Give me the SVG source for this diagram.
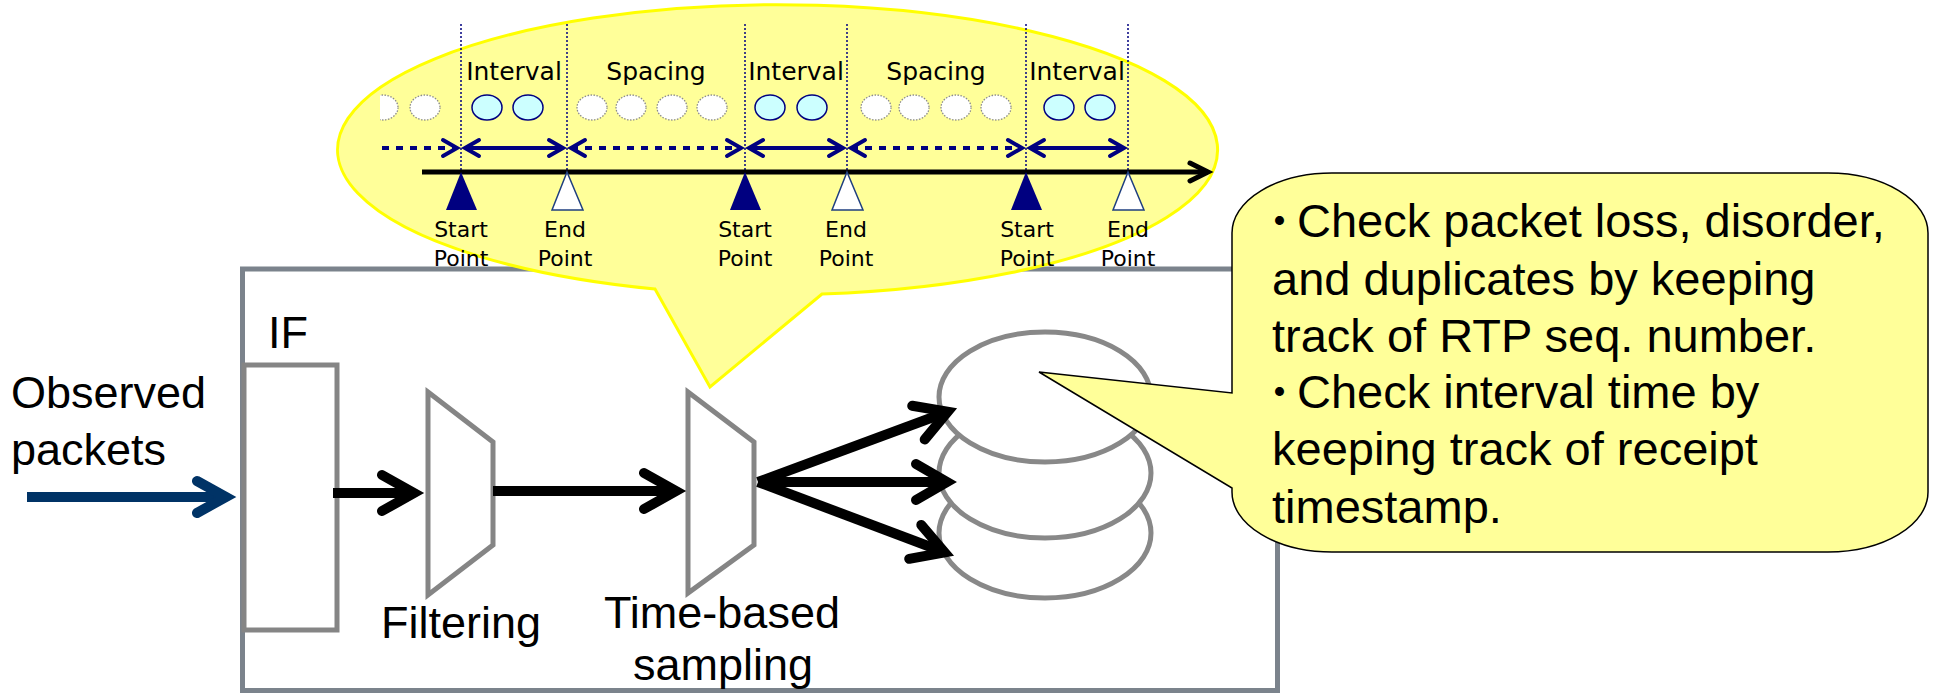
<svg xmlns="http://www.w3.org/2000/svg" width="1933" height="694" viewBox="0 0 1933 694">
<defs>
<style>
.lbl{font-family:"Liberation Sans",Arial,sans-serif;font-size:45px;fill:#000}
.tl{font-family:"DejaVu Sans",Verdana,sans-serif;fill:#000;text-anchor:middle}
.t25{font-size:25px}
.t22{font-size:22px}
.note{font-family:"Liberation Sans",Arial,"Noto Sans CJK JP",sans-serif;font-size:47px;fill:#000}
.bul{font-family:"Noto Sans CJK JP",sans-serif;font-size:35px;font-weight:bold}
.gray{fill:#fff;stroke:#858585;stroke-width:5}
.shaft{fill:none;stroke:#000;stroke-width:10;stroke-linecap:butt}
.head{fill:none;stroke:#000;stroke-width:10;stroke-linecap:round;stroke-linejoin:miter}
.blue{stroke:#003366}
.vdot{fill:none;stroke:#000080;stroke-width:1.5;stroke-dasharray:2 2}
.nav{fill:none;stroke:#000080;stroke-width:4}
.dash{stroke-dasharray:7 7}
.pw{fill:#fff;stroke:#8c8c8c;stroke-width:1.3;stroke-dasharray:1.5 1.5}
.pc{fill:#ccffff;stroke:#000080;stroke-width:1.5}
.tri-s{fill:#000080}
.tri-e{fill:#fff;stroke:#1f3f7f;stroke-width:1.5}
.disk{fill:#fff;stroke:#888;stroke-width:5}
</style>
<marker id="na" markerUnits="userSpaceOnUse" viewBox="-20 -12 24 24" markerWidth="24" markerHeight="24" refX="0" refY="0" orient="auto-start-reverse" overflow="visible">
<path d="M-14,-8 L0,0 L-14,8" fill="none" stroke="#000080" stroke-width="4" stroke-linecap="round"/>
</marker>
<clipPath id="cp"><rect x="380" y="85" width="60" height="45"/></clipPath>
</defs>

<g id="box">
<rect x="242.5" y="269" width="1035" height="421.5" fill="#fff" stroke="#7b838c" stroke-width="5"/>
</g>

<g id="node-if">
<rect x="244" y="365" width="93" height="265" class="gray"/>
<text x="268" y="348" class="lbl">IF</text>
</g>

<g id="node-filtering">
<polygon points="428,392 493,442 493,545 428,595" class="gray"/>
<text x="381" y="638" class="lbl">Filtering</text>
</g>

<g id="node-sampling">
<polygon points="688,392 754,442 754,545 688,593" class="gray"/>
<text x="722" y="628" class="lbl" text-anchor="middle">Time-based</text>
<text x="723" y="680" class="lbl" text-anchor="middle">sampling</text>
</g>

<g id="node-disks">
<ellipse cx="1045" cy="533" rx="106" ry="65" class="disk"/>
<ellipse cx="1045" cy="473" rx="106" ry="65" class="disk"/>
<ellipse cx="1045" cy="397" rx="106" ry="65" class="disk"/>
</g>

<g id="node-observed">
<text x="11" y="408" class="lbl">Observed</text>
<text x="11" y="465" class="lbl">packets</text>
</g>

<g id="connectors">
<path d="M27,497 H226" class="shaft blue"/>
<path d="M197,481 L226,497 L197,513" class="head blue"/>
<path d="M333,493 H414" class="shaft"/>
<path d="M382,475 L414,493 L382,511" class="head"/>
<path d="M493,491 H676" class="shaft"/>
<path d="M644,473 L676,491 L644,509" class="head"/>
<path d="M758,482 L947.7,411.8" class="shaft"/>
<path d="M912.2,405.8 L947.7,411.8 L924.7,439.5" class="head"/>
<path d="M758,482 H947" class="shaft"/>
<path d="M916,464 L947,482 L916,500" class="head"/>
<path d="M758,482 L944.6,552.3" class="shaft"/>
<path d="M921.3,524.9 L944.6,552.3 L909.2,558.8" class="head"/>
</g>

<g id="node-timeline">
<path d="M655,289 L710,387 L822,294 A440,145 0 1 0 655,289 Z" fill="#ffff99" stroke="#ffff00" stroke-width="3"/>
<g class="vdot">
<line x1="461" y1="24" x2="461" y2="172"/>
<line x1="567" y1="24" x2="567" y2="172"/>
<line x1="745" y1="24" x2="745" y2="172"/>
<line x1="847" y1="24" x2="847" y2="172"/>
<line x1="1026" y1="24" x2="1026" y2="172"/>
<line x1="1128" y1="24" x2="1128" y2="172"/>
</g>
<text x="514" y="80" class="tl t25">Interval</text>
<text x="656" y="80" class="tl t25">Spacing</text>
<text x="796" y="80" class="tl t25">Interval</text>
<text x="936" y="80" class="tl t25">Spacing</text>
<text x="1077" y="80" class="tl t25">Interval</text>
<ellipse cx="383" cy="107.5" rx="15" ry="12.5" class="pw" clip-path="url(#cp)"/>
<ellipse cx="425" cy="107.5" rx="15" ry="12.5" class="pw"/>
<ellipse cx="487" cy="107.5" rx="15" ry="12.5" class="pc"/>
<ellipse cx="528" cy="107.5" rx="15" ry="12.5" class="pc"/>
<ellipse cx="592" cy="107.5" rx="15" ry="12.5" class="pw"/>
<ellipse cx="631" cy="107.5" rx="15" ry="12.5" class="pw"/>
<ellipse cx="672" cy="107.5" rx="15" ry="12.5" class="pw"/>
<ellipse cx="712" cy="107.5" rx="15" ry="12.5" class="pw"/>
<ellipse cx="770" cy="107.5" rx="15" ry="12.5" class="pc"/>
<ellipse cx="812" cy="107.5" rx="15" ry="12.5" class="pc"/>
<ellipse cx="876" cy="107.5" rx="15" ry="12.5" class="pw"/>
<ellipse cx="914" cy="107.5" rx="15" ry="12.5" class="pw"/>
<ellipse cx="956" cy="107.5" rx="15" ry="12.5" class="pw"/>
<ellipse cx="996" cy="107.5" rx="15" ry="12.5" class="pw"/>
<ellipse cx="1059" cy="107.5" rx="15" ry="12.5" class="pc"/>
<ellipse cx="1100" cy="107.5" rx="15" ry="12.5" class="pc"/>
<path d="M382,148 H457" class="nav dash" marker-end="url(#na)"/>
<path d="M465,148 H563" class="nav" marker-start="url(#na)" marker-end="url(#na)"/>
<path d="M571,148 H741" class="nav dash" marker-start="url(#na)" marker-end="url(#na)"/>
<path d="M749,148 H843" class="nav" marker-start="url(#na)" marker-end="url(#na)"/>
<path d="M851,148 H1022" class="nav dash" marker-start="url(#na)" marker-end="url(#na)"/>
<path d="M1030,148 H1124" class="nav" marker-start="url(#na)" marker-end="url(#na)"/>
<path d="M422,172 H1208" fill="none" stroke="#000" stroke-width="5"/>
<path d="M1190,163 L1208,172 L1190,181" fill="none" stroke="#000" stroke-width="5" stroke-linecap="round"/>
<polygon points="461,172 446,210 477,210" class="tri-s"/>
<polygon points="745,172 730,210 761,210" class="tri-s"/>
<polygon points="1026,172 1011,210 1042,210" class="tri-s"/>
<polygon points="567,172 552,210 583,210" class="tri-e"/>
<polygon points="847,172 832,210 863,210" class="tri-e"/>
<polygon points="1128,172 1113,210 1144,210" class="tri-e"/>
<text class="tl t22"><tspan x="461" y="237">Start</tspan><tspan x="461" y="266">Point</tspan></text>
<text class="tl t22"><tspan x="565" y="237">End</tspan><tspan x="565" y="266">Point</tspan></text>
<text class="tl t22"><tspan x="745" y="237">Start</tspan><tspan x="745" y="266">Point</tspan></text>
<text class="tl t22"><tspan x="846" y="237">End</tspan><tspan x="846" y="266">Point</tspan></text>
<text class="tl t22"><tspan x="1027" y="237">Start</tspan><tspan x="1027" y="266">Point</tspan></text>
<text class="tl t22"><tspan x="1128" y="237">End</tspan><tspan x="1128" y="266">Point</tspan></text>
</g>

<g id="node-note">
<path d="M1332,173 H1828 A100,60 0 0 1 1928,233 V492 A100,60 0 0 1 1828,552 H1332 A100,60 0 0 1 1232,492 V488 L1039,372 L1232,393 V233 A100,60 0 0 1 1332,173 Z" fill="#ffff99" stroke="#000" stroke-width="1.5"/>
<text class="note">
<tspan x="1262" y="234" class="bul">・</tspan><tspan x="1297" y="237">Check packet loss, disorder,</tspan>
<tspan x="1272" y="295">and duplicates by keeping</tspan>
<tspan x="1272" y="352">track of RTP seq. number.</tspan>
<tspan x="1262" y="405" class="bul">・</tspan><tspan x="1297" y="408">Check interval time by</tspan>
<tspan x="1272" y="465">keeping track of receipt</tspan>
<tspan x="1272" y="523">timestamp.</tspan>
</text>
</g>
</svg>
